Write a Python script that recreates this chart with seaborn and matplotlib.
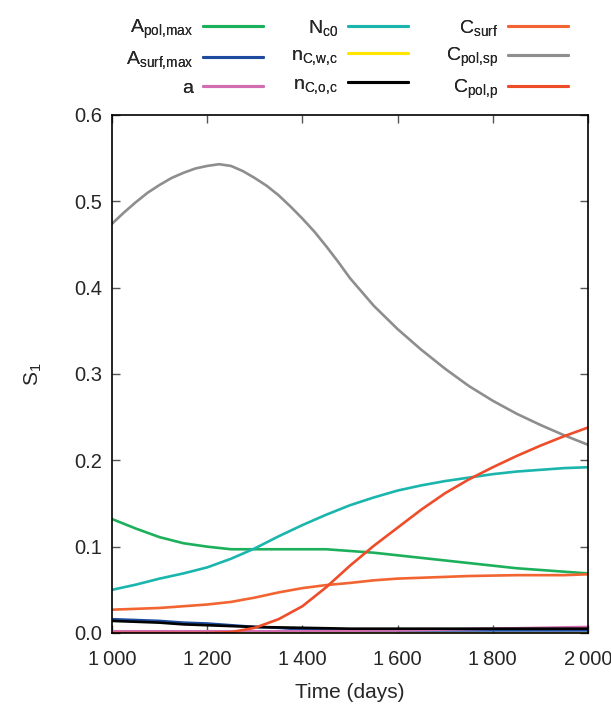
import numpy as np
import pandas as pd
import matplotlib
matplotlib.use("Agg")
import matplotlib.pyplot as plt
import seaborn as sns

# time grid (days) and sensitivity values
days = list(range(1000, 2001, 50))
days_sp = list(range(1000, 1501, 25)) + list(range(1550, 2001, 50))

a_pol_max = [0.132, 0.121, 0.111, 0.104, 0.100, 0.097, 0.097, 0.097, 0.097, 0.097, 0.095,
             0.093, 0.090, 0.087, 0.084, 0.081, 0.078, 0.075, 0.073, 0.071, 0.069]
a_surf_max = [0.016, 0.015, 0.014, 0.012, 0.011, 0.009, 0.007, 0.006, 0.004, 0.0035, 0.003,
              0.003, 0.003, 0.003, 0.003, 0.003, 0.003, 0.003, 0.003, 0.003, 0.003]
a_param = [0.002, 0.002, 0.002, 0.002, 0.002, 0.002, 0.002, 0.002, 0.002, 0.002, 0.0025,
           0.003, 0.003, 0.0035, 0.004, 0.0045, 0.005, 0.0055, 0.006, 0.0065, 0.007]
n_c0 = [0.050, 0.056, 0.063, 0.069, 0.076, 0.086, 0.098, 0.112, 0.125, 0.137, 0.148,
        0.157, 0.165, 0.171, 0.176, 0.180, 0.184, 0.187, 0.189, 0.191, 0.192]
n_cwc = [0.0005] * 21
n_coc = [0.014, 0.013, 0.012, 0.010, 0.009, 0.008, 0.007, 0.0065, 0.006, 0.0055, 0.005,
         0.005, 0.005, 0.005, 0.005, 0.005, 0.005, 0.005, 0.005, 0.005, 0.005]
c_surf = [0.027, 0.028, 0.029, 0.031, 0.033, 0.036, 0.041, 0.047, 0.052, 0.0555, 0.058,
          0.061, 0.063, 0.064, 0.065, 0.066, 0.0665, 0.067, 0.067, 0.067, 0.068]
c_pol_sp = [0.474, 0.487, 0.499, 0.510, 0.519, 0.527, 0.533, 0.538, 0.541, 0.543, 0.541,
            0.535, 0.527, 0.518, 0.507, 0.494, 0.480, 0.465, 0.448, 0.430, 0.411,
            0.379, 0.352, 0.328, 0.306, 0.286, 0.269, 0.254, 0.241, 0.229, 0.218]
c_pol_p = [0.0, 0.0, 0.0, 0.0, 0.0, 0.001, 0.006, 0.016, 0.031, 0.053, 0.078,
           0.101, 0.122, 0.143, 0.162, 0.178, 0.192, 0.205, 0.217, 0.228, 0.238]

labels = [r'A$_{\mathrm{pol{,}max}}$', r'A$_{\mathrm{surf{,}max}}$', 'a',
          r'N$_{\mathrm{c0}}$', r'n$_{\mathrm{C{,}w{,}c}}$', r'n$_{\mathrm{C{,}o{,}c}}$',
          r'C$_{\mathrm{surf}}$', r'C$_{\mathrm{pol{,}sp}}$', r'C$_{\mathrm{pol{,}p}}$']
series = [a_pol_max, a_surf_max, a_param, n_c0, n_cwc, n_coc, c_surf, c_pol_sp, c_pol_p]
colors = ['#1db05c', '#1e4b9e', '#d46cb0', '#1ab6ad', '#ffe500', '#000000',
          '#f26532', '#8e8e8e', '#ee4d2a']

frames = []
for s, lab in zip(series, labels):
    x = days_sp if len(s) == len(days_sp) else days
    frames.append(pd.DataFrame({'day': x, 'S1': s, 'param': lab}))
df = pd.concat(frames, ignore_index=True)

sns.set_style("ticks")
plt.rcParams['font.family'] = ['Liberation Sans', 'DejaVu Sans']
plt.rcParams['mathtext.fontset'] = 'custom'
plt.rcParams['mathtext.rm'] = 'Liberation Sans'
plt.rcParams['mathtext.it'] = 'Liberation Sans:italic'
plt.rcParams['font.size'] = 13

fig = plt.figure(figsize=(6.11, 7.09), dpi=100)
ax = fig.add_axes([112 / 611, 1 - 633 / 709, 476 / 611, 518 / 709])

sns.lineplot(data=df, x='day', y='S1', hue='param', hue_order=labels,
             palette=dict(zip(labels, colors)), linewidth=1.9, ax=ax, legend=False)

ax.set_xlim(1000, 2000)
ax.set_ylim(0, 0.6)
ax.set_xticks(range(1000, 2001, 200))
ax.set_xticklabels([f"{t // 1000}\u2009{t % 1000:03d}" for t in range(1000, 2001, 200)])
ax.set_yticks(np.arange(0, 0.61, 0.1))
ax.set_yticklabels([f"{v:.1f}" for v in np.arange(0, 0.61, 0.1)])
ax.tick_params(direction='in', length=6, width=1, color='#555555', labelsize=14.5,
               top=True, right=True)
ax.tick_params(axis='y', pad=7)
ax.tick_params(axis='x', pad=12)
for sp in ax.spines.values():
    sp.set_linewidth(1.2)
    sp.set_color('black')
ax.set_xlabel('Time (days)', fontsize=15, labelpad=10)
ax.set_ylabel(r'S$_{\mathrm{1}}$', fontsize=15, labelpad=22)

# one legend per column, gnuplot style (label right-aligned, line sample after it)
col_right = [263, 408, 568]
for k in range(3):
    hs = [plt.Line2D([], [], color=c, linewidth=2.2) for c in colors[3 * k:3 * k + 3]]
    leg = fig.legend(hs, labels[3 * k:3 * k + 3], loc='upper right',
                     bbox_to_anchor=(col_right[k] / 611, 1 - 18 / 709),
                     frameon=False, markerfirst=False, fontsize=14, handlelength=3.1,
                     handletextpad=0.5, labelspacing=0.42, borderpad=0, borderaxespad=0)
    fig.add_artist(leg)

fig.savefig('out.png', dpi=100)
